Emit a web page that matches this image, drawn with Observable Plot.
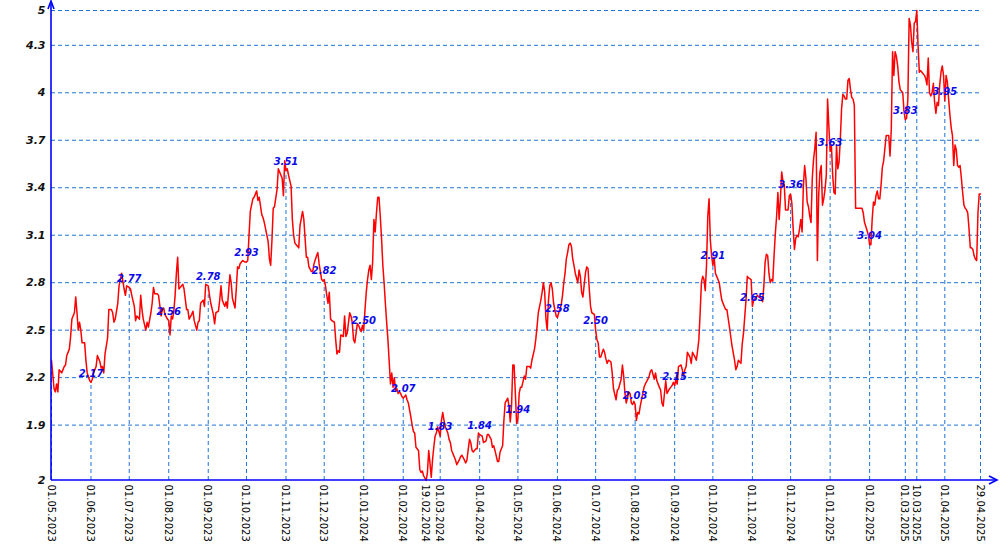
<!DOCTYPE html>
<html>
<head>
<meta charset="utf-8">
<script src="https://cdn.jsdelivr.net/npm/d3@7"></script>
<script src="https://cdn.jsdelivr.net/npm/@observablehq/plot@0.6"></script>
<style>
  html, body { margin: 0; padding: 0; background: #ffffff; }
  svg { display: block; }
</style>
</head>
<body>
<div id="chart"></div>
<script>
// ---- data ----
const dates = [
  // 2023-05
  "2023-05-01","2023-05-03","2023-05-04","2023-05-05","2023-05-06","2023-05-07","2023-05-09","2023-05-11","2023-05-12","2023-05-13","2023-05-15","2023-05-16","2023-05-17","2023-05-19","2023-05-20","2023-05-21","2023-05-22","2023-05-23","2023-05-24","2023-05-25","2023-05-27","2023-05-28","2023-05-29","2023-05-31",
  // 2023-06
  "2023-06-01","2023-06-02","2023-06-03","2023-06-05","2023-06-06","2023-06-08","2023-06-09","2023-06-10","2023-06-11","2023-06-12","2023-06-14","2023-06-15","2023-06-17","2023-06-18","2023-06-19","2023-06-20","2023-06-22","2023-06-23","2023-06-25","2023-06-27","2023-06-28","2023-06-29",
  // 2023-07
  "2023-07-01","2023-07-02","2023-07-03","2023-07-05","2023-07-06","2023-07-07","2023-07-09","2023-07-10","2023-07-11","2023-07-12","2023-07-14","2023-07-15","2023-07-16","2023-07-18","2023-07-19","2023-07-20","2023-07-21","2023-07-23","2023-07-24","2023-07-26","2023-07-27","2023-07-28","2023-07-29","2023-07-31",
  // 2023-08
  "2023-08-01","2023-08-02","2023-08-03","2023-08-04","2023-08-05","2023-08-06","2023-08-07","2023-08-08","2023-08-09","2023-08-11","2023-08-12","2023-08-13","2023-08-15","2023-08-16","2023-08-17","2023-08-19","2023-08-20","2023-08-21","2023-08-23","2023-08-24","2023-08-25","2023-08-26","2023-08-28","2023-08-29","2023-08-30",
  // 2023-09
  "2023-09-01","2023-09-02","2023-09-03","2023-09-05","2023-09-06","2023-09-07","2023-09-09","2023-09-10","2023-09-11","2023-09-12","2023-09-14","2023-09-15","2023-09-16","2023-09-18","2023-09-19","2023-09-20","2023-09-22","2023-09-23","2023-09-24","2023-09-25","2023-09-26","2023-09-28","2023-09-30",
  // 2023-10
  "2023-10-01","2023-10-02","2023-10-03","2023-10-04","2023-10-06","2023-10-07","2023-10-09","2023-10-10","2023-10-11","2023-10-13","2023-10-14","2023-10-15","2023-10-17","2023-10-18","2023-10-19","2023-10-20","2023-10-21","2023-10-22","2023-10-23","2023-10-25","2023-10-26","2023-10-27","2023-10-29","2023-10-30","2023-10-31",
  // 2023-11
  "2023-11-01","2023-11-02","2023-11-03","2023-11-05","2023-11-06","2023-11-07","2023-11-08","2023-11-10","2023-11-11","2023-11-12","2023-11-14","2023-11-15","2023-11-16","2023-11-17","2023-11-18","2023-11-19","2023-11-21","2023-11-22","2023-11-23","2023-11-25","2023-11-26","2023-11-27","2023-11-28","2023-11-29","2023-11-30",
  // 2023-12
  "2023-12-01","2023-12-02","2023-12-03","2023-12-04","2023-12-05","2023-12-06","2023-12-07","2023-12-09","2023-12-10","2023-12-11","2023-12-12","2023-12-13","2023-12-14","2023-12-16","2023-12-17","2023-12-18","2023-12-19","2023-12-21","2023-12-22","2023-12-23","2023-12-24","2023-12-25","2023-12-26","2023-12-27","2023-12-28","2023-12-30","2023-12-31",
  // 2024-01
  "2024-01-01","2024-01-02","2024-01-03","2024-01-04","2024-01-05","2024-01-06","2024-01-07","2024-01-08","2024-01-09","2024-01-10","2024-01-11","2024-01-12","2024-01-13","2024-01-14","2024-01-15","2024-01-16","2024-01-17","2024-01-18","2024-01-19","2024-01-20","2024-01-21","2024-01-22","2024-01-23","2024-01-24","2024-01-25","2024-01-26","2024-01-27","2024-01-28","2024-01-29","2024-01-30","2024-01-31",
  // 2024-02
  "2024-02-01","2024-02-02","2024-02-03","2024-02-04","2024-02-05","2024-02-07","2024-02-08","2024-02-09","2024-02-10","2024-02-11","2024-02-13","2024-02-14","2024-02-15","2024-02-16","2024-02-17","2024-02-19","2024-02-20","2024-02-21","2024-02-22","2024-02-23","2024-02-24","2024-02-25","2024-02-26","2024-02-27","2024-02-28",
  // 2024-03
  "2024-03-01","2024-03-02","2024-03-03","2024-03-04","2024-03-05","2024-03-07","2024-03-08","2024-03-09","2024-03-10","2024-03-12","2024-03-13","2024-03-14","2024-03-16","2024-03-17","2024-03-18","2024-03-20","2024-03-21","2024-03-22","2024-03-24","2024-03-25","2024-03-26","2024-03-27","2024-03-29","2024-03-30","2024-03-31",
  // 2024-04
  "2024-04-01","2024-04-03","2024-04-04","2024-04-06","2024-04-07","2024-04-08","2024-04-10","2024-04-11","2024-04-12","2024-04-13","2024-04-15","2024-04-16","2024-04-17","2024-04-19","2024-04-20","2024-04-21","2024-04-23","2024-04-24","2024-04-25","2024-04-26","2024-04-27","2024-04-28","2024-04-29","2024-04-30",
  // 2024-05
  "2024-05-01","2024-05-02","2024-05-03","2024-05-04","2024-05-06","2024-05-07","2024-05-08","2024-05-10","2024-05-11","2024-05-12","2024-05-14","2024-05-15","2024-05-16","2024-05-17","2024-05-18","2024-05-19","2024-05-20","2024-05-21","2024-05-22","2024-05-23","2024-05-24","2024-05-25","2024-05-26","2024-05-27","2024-05-28","2024-05-29","2024-05-31",
  // 2024-06
  "2024-06-01","2024-06-02","2024-06-04","2024-06-05","2024-06-06","2024-06-07","2024-06-08","2024-06-09","2024-06-10","2024-06-11","2024-06-12","2024-06-13","2024-06-14","2024-06-15","2024-06-16","2024-06-17","2024-06-18","2024-06-19","2024-06-20","2024-06-21","2024-06-23","2024-06-24","2024-06-25","2024-06-26","2024-06-27","2024-06-28","2024-06-30",
  // 2024-07
  "2024-07-01","2024-07-02","2024-07-03","2024-07-04","2024-07-05","2024-07-07","2024-07-08","2024-07-09","2024-07-10","2024-07-11","2024-07-13","2024-07-14","2024-07-15","2024-07-17","2024-07-18","2024-07-19","2024-07-21","2024-07-22","2024-07-23","2024-07-24","2024-07-25","2024-07-27","2024-07-28","2024-07-29","2024-07-30","2024-07-31",
  // 2024-08
  "2024-08-01","2024-08-02","2024-08-03","2024-08-04","2024-08-05","2024-08-07","2024-08-08","2024-08-09","2024-08-11","2024-08-12","2024-08-13","2024-08-14","2024-08-16","2024-08-17","2024-08-18","2024-08-20","2024-08-21","2024-08-22","2024-08-23","2024-08-24","2024-08-25","2024-08-26","2024-08-28","2024-08-29","2024-08-30","2024-08-31",
  // 2024-09
  "2024-09-01","2024-09-02","2024-09-03","2024-09-04","2024-09-06","2024-09-07","2024-09-08","2024-09-09","2024-09-10","2024-09-11","2024-09-13","2024-09-14","2024-09-15","2024-09-17","2024-09-18","2024-09-19","2024-09-20","2024-09-21","2024-09-22","2024-09-23","2024-09-24","2024-09-25","2024-09-26","2024-09-27","2024-09-28","2024-09-29","2024-09-30",
  // 2024-10
  "2024-10-01","2024-10-02","2024-10-03","2024-10-04","2024-10-06","2024-10-07","2024-10-08","2024-10-10","2024-10-11","2024-10-12","2024-10-14","2024-10-15","2024-10-16","2024-10-18","2024-10-19","2024-10-20","2024-10-21","2024-10-23","2024-10-24","2024-10-25","2024-10-27","2024-10-28","2024-10-29","2024-10-31",
  // 2024-11
  "2024-11-01","2024-11-02","2024-11-04","2024-11-05","2024-11-06","2024-11-08","2024-11-09","2024-11-10","2024-11-11","2024-11-12","2024-11-13","2024-11-14","2024-11-15","2024-11-16","2024-11-17","2024-11-18","2024-11-19","2024-11-20","2024-11-21","2024-11-22","2024-11-23","2024-11-24","2024-11-25","2024-11-26","2024-11-27","2024-11-29","2024-11-30",
  // 2024-12
  "2024-12-01","2024-12-02","2024-12-03","2024-12-04","2024-12-05","2024-12-06","2024-12-07","2024-12-08","2024-12-09","2024-12-10","2024-12-11","2024-12-12","2024-12-13","2024-12-14","2024-12-15","2024-12-16","2024-12-17","2024-12-18","2024-12-19","2024-12-20","2024-12-21","2024-12-22","2024-12-23","2024-12-24","2024-12-25","2024-12-26","2024-12-27","2024-12-28","2024-12-29","2024-12-30","2024-12-31",
  // 2025-01
  "2025-01-01","2025-01-02","2025-01-03","2025-01-04","2025-01-05","2025-01-06","2025-01-07","2025-01-08","2025-01-09","2025-01-10","2025-01-11","2025-01-12","2025-01-13","2025-01-14","2025-01-15","2025-01-16","2025-01-17","2025-01-18","2025-01-19","2025-01-20","2025-01-21","2025-01-22","2025-01-24","2025-01-26","2025-01-27","2025-01-28","2025-01-30","2025-01-31",
  // 2025-02
  "2025-02-01","2025-02-02","2025-02-03","2025-02-04","2025-02-05","2025-02-06","2025-02-07","2025-02-08","2025-02-09","2025-02-10","2025-02-11","2025-02-12","2025-02-13","2025-02-14","2025-02-15","2025-02-16","2025-02-17","2025-02-18","2025-02-19","2025-02-20","2025-02-21","2025-02-22","2025-02-23","2025-02-24","2025-02-25","2025-02-27","2025-02-28",
  // 2025-03
  "2025-03-01","2025-03-02","2025-03-03","2025-03-04","2025-03-05","2025-03-06","2025-03-07","2025-03-08","2025-03-09","2025-03-10","2025-03-11","2025-03-12","2025-03-13","2025-03-14","2025-03-16","2025-03-17","2025-03-18","2025-03-19","2025-03-20","2025-03-21","2025-03-22","2025-03-23","2025-03-24","2025-03-25","2025-03-26","2025-03-27","2025-03-28","2025-03-29","2025-03-30","2025-03-31",
  // 2025-04
  "2025-04-01","2025-04-02","2025-04-03","2025-04-04","2025-04-05","2025-04-06","2025-04-07","2025-04-08","2025-04-09","2025-04-10","2025-04-11","2025-04-12","2025-04-13","2025-04-14","2025-04-15","2025-04-16","2025-04-17","2025-04-18","2025-04-19","2025-04-20","2025-04-21","2025-04-22","2025-04-23","2025-04-24","2025-04-25","2025-04-26","2025-04-27","2025-04-28","2025-04-29"
];

const values = [
  // 2023-05
  2.31,2.13,2.11,2.16,2.11,2.25,2.23,2.27,2.28,2.34,2.38,2.46,2.57,2.61,2.71,2.61,2.50,2.55,2.50,2.42,2.42,2.31,2.23,2.18,
  // 2023-06
  2.17,2.19,2.23,2.27,2.34,2.30,2.26,2.27,2.23,2.35,2.45,2.63,2.63,2.61,2.55,2.57,2.67,2.78,2.86,2.76,2.72,2.78,
  // 2023-07
  2.77,2.76,2.72,2.65,2.56,2.59,2.57,2.72,2.63,2.57,2.50,2.55,2.52,2.61,2.67,2.77,2.73,2.73,2.72,2.59,2.63,2.64,2.60,2.57,
  // 2023-08
  2.56,2.47,2.59,2.57,2.62,2.72,2.86,2.96,2.76,2.78,2.79,2.76,2.63,2.63,2.57,2.60,2.62,2.56,2.50,2.55,2.56,2.67,2.69,2.65,2.79,
  // 2023-09
  2.78,2.72,2.67,2.60,2.54,2.61,2.62,2.69,2.78,2.69,2.65,2.68,2.64,2.85,2.80,2.70,2.64,2.76,2.90,2.89,2.92,2.94,2.93,
  // 2023-10
  2.93,2.94,3.10,3.25,3.33,3.34,3.38,3.32,3.34,3.23,3.21,3.18,3.10,3.06,2.95,2.91,3.07,3.27,3.28,3.39,3.52,3.50,3.46,3.35,3.57,
  // 2023-11
  3.51,3.52,3.48,3.41,3.20,3.10,3.05,3.03,3.02,3.16,3.25,3.20,3.08,2.96,2.96,2.90,2.87,2.87,2.92,2.97,2.99,2.92,2.87,2.82,2.81,
  // 2023-12
  2.82,2.78,2.72,2.67,2.74,2.57,2.56,2.55,2.44,2.35,2.37,2.36,2.47,2.46,2.59,2.46,2.48,2.61,2.59,2.55,2.44,2.42,2.48,2.54,2.53,2.49,2.53,
  // 2024-01
  2.50,2.63,2.74,2.82,2.88,2.91,2.82,2.93,3.20,3.12,3.24,3.34,3.34,3.22,3.08,2.91,2.80,2.67,2.55,2.44,2.30,2.16,2.23,2.14,2.20,2.12,2.13,2.10,2.11,2.10,2.08,
  // 2024-02
  2.07,2.08,2.09,2.06,2.04,1.95,1.90,1.86,1.85,1.76,1.74,1.62,1.60,1.61,1.58,1.55,1.60,1.74,1.66,1.57,1.68,1.76,1.83,1.85,1.89,
  // 2024-03
  1.83,1.93,1.98,1.93,1.89,1.85,1.81,1.79,1.74,1.70,1.68,1.65,1.68,1.70,1.71,1.68,1.66,1.68,1.81,1.79,1.74,1.73,1.75,1.75,1.85,
  // 2024-04
  1.84,1.83,1.79,1.80,1.84,1.84,1.81,1.76,1.77,1.74,1.67,1.67,1.73,1.77,1.93,2.04,2.07,2.02,1.92,2.02,2.28,2.28,2.10,1.91,
  // 2024-05
  1.94,2.10,2.14,2.14,2.21,2.19,2.27,2.27,2.26,2.31,2.38,2.44,2.52,2.61,2.65,2.69,2.74,2.80,2.74,2.57,2.50,2.69,2.78,2.80,2.76,2.67,2.59,
  // 2024-06
  2.58,2.61,2.66,2.72,2.80,2.86,2.95,2.99,3.04,3.05,3.03,2.95,2.91,2.86,2.83,2.80,2.88,2.84,2.74,2.71,2.86,2.90,2.89,2.76,2.65,2.61,2.60,
  // 2024-07
  2.50,2.44,2.42,2.33,2.33,2.38,2.36,2.32,2.29,2.31,2.30,2.23,2.13,2.06,2.12,2.13,2.19,2.28,2.21,2.10,2.04,2.11,2.10,2.04,2.03,2.05,
  // 2024-08
  2.03,1.93,1.98,1.97,2.02,2.10,2.14,2.16,2.19,2.21,2.24,2.25,2.19,2.23,2.18,2.14,2.12,2.04,2.02,2.10,2.18,2.10,2.13,2.14,2.15,2.17,
  // 2024-09
  2.15,2.19,2.16,2.27,2.28,2.25,2.21,2.25,2.27,2.36,2.33,2.29,2.36,2.33,2.31,2.37,2.44,2.61,2.80,2.84,2.82,2.75,2.91,3.22,3.33,3.07,2.97,
  // 2024-10
  2.91,2.96,2.86,2.84,2.80,2.74,2.69,2.65,2.63,2.63,2.52,2.46,2.40,2.31,2.25,2.27,2.31,2.29,2.41,2.48,2.69,2.84,2.83,2.82,
  // 2024-11
  2.65,2.69,2.71,2.72,2.71,2.70,2.68,2.78,2.93,2.98,2.97,2.86,2.80,2.82,2.81,2.97,3.11,3.22,3.37,3.20,3.33,3.50,3.44,3.42,3.26,3.26,3.35,
  // 2024-12
  3.36,3.30,3.14,3.01,3.08,3.10,3.09,3.14,3.20,3.12,3.41,3.54,3.46,3.31,3.28,3.22,3.18,3.46,3.58,3.65,3.75,2.94,3.35,3.50,3.54,3.29,3.33,3.39,3.48,3.96,3.79,
  // 2025-01
  3.63,3.67,3.48,3.37,3.36,3.67,3.52,3.56,3.71,3.90,3.99,3.98,3.96,3.96,4.08,4.09,4.02,3.97,3.96,3.92,3.27,3.27,3.27,3.27,3.24,3.18,3.13,3.10,
  // 2025-02
  3.04,3.04,3.20,3.31,3.29,3.35,3.38,3.33,3.33,3.42,3.53,3.57,3.65,3.73,3.73,3.73,3.60,3.77,4.26,4.11,4.26,4.23,4.17,4.07,4.02,4.00,3.88,
  // 2025-03
  3.83,3.84,3.96,4.47,4.43,4.32,4.26,4.44,4.45,4.52,4.30,4.13,4.14,4.13,4.11,4.09,4.05,4.22,4.00,3.98,4.00,4.06,3.94,3.87,3.94,3.92,4.05,4.13,4.17,4.11,
  // 2025-04
  3.95,4.11,4.07,3.96,3.86,3.78,3.73,3.54,3.67,3.64,3.54,3.53,3.54,3.46,3.37,3.29,3.27,3.26,3.24,3.14,3.02,3.02,3.01,2.97,2.95,2.94,3.24,3.36,3.36
];

// x-axis tick dates (vertical dashed guides reach up to the series value)
const tickDates = [
  "2023-05-01","2023-06-01","2023-07-01","2023-08-01","2023-09-01","2023-10-01","2023-11-01","2023-12-01",
  "2024-01-01","2024-02-01","2024-02-19","2024-03-01","2024-04-01","2024-05-01","2024-06-01","2024-07-01",
  "2024-08-01","2024-09-01","2024-10-01","2024-11-01","2024-12-01","2025-01-01","2025-02-01","2025-03-01",
  "2025-03-10","2025-04-01","2025-04-29"
];

// dates whose value is written as a blue label
const labelDates = [
  "2023-06-01","2023-07-01","2023-08-01","2023-09-01","2023-10-01","2023-11-01","2023-12-01",
  "2024-01-01","2024-02-01","2024-03-01","2024-04-01","2024-05-01","2024-06-01","2024-07-01",
  "2024-08-01","2024-09-01","2024-10-01","2024-11-01","2024-12-01","2025-01-01","2025-02-01",
  "2025-03-01","2025-04-01"
];

// horizontal grid values and y tick labels (first = series minimum, last = series maximum)
const gridValues = [1.9, 2.2, 2.5, 2.8, 3.1, 3.4, 3.7, 4.0, 4.3];
const yTickLabels = ["2", "1.9", "2.2", "2.5", "2.8", "3.1", "3.4", "3.7", "4", "4.3", "5"];

// ---- build ----
const parse = d3.utcParse("%Y-%m-%d");
const fmtDate = d3.utcFormat("%d.%m.%Y");
const fmtVal = d3.format(".2f");

const series = dates.map((d, i) => ({date: parse(d), value: values[i]}));
const byDate = new Map(series.map(d => [+d.date, d.value]));
const ymin = d3.min(values), ymax = d3.max(values);
const xStart = series[0].date, xEnd = series[series.length - 1].date;

const tickRecs = tickDates.map(s => ({date: parse(s), value: byDate.get(+parse(s))}));
const labelRecs = labelDates.map(s => ({date: parse(s), value: byDate.get(+parse(s))}));
const yTickValues = [ymin, ...gridValues, ymax];
const yTickRecs = yTickValues.map((v, i) => ({v, label: yTickLabels[i]}));

const GRID = "#1f74d6";
const AXIS = "#0000ff";
const dash = "4,3";

const chart = Plot.plot({
  width: 1000,
  height: 550,
  marginLeft: 51,
  marginRight: 20,
  marginTop: 10,
  marginBottom: 70,
  style: {fontFamily: "'DejaVu Sans', Verdana, sans-serif", background: "#ffffff", overflow: "visible"},
  x: {type: "utc", domain: [xStart, xEnd], axis: null},
  y: {domain: [ymin, ymax], axis: null},
  marks: [
    Plot.ruleY([...gridValues, ymax], {stroke: GRID, strokeWidth: 1, strokeDasharray: dash}),
    Plot.ruleX(tickRecs, {x: "date", y1: ymin, y2: "value", stroke: GRID, strokeWidth: 1, strokeDasharray: dash}),
    Plot.line(series, {x: "date", y: "value", stroke: "#ff0000", strokeWidth: 1.5}),
    Plot.text(labelRecs, {
      x: "date", y: "value", text: d => fmtVal(d.value), dy: -9,
      fill: "#0a0ae8", fontWeight: "bold", fontStyle: "italic", fontSize: 10
    }),
    Plot.text(tickRecs, {
      x: "date", frameAnchor: "bottom", text: d => fmtDate(d.date),
      rotate: 90, textAnchor: "start", dx: -4, dy: 4, fill: "#000000", fontSize: 10
    }),
    Plot.text(yTickRecs, {
      y: "v", frameAnchor: "left", text: "label", textAnchor: "end", dx: -6,
      fill: "#111111", fontWeight: "bold", fontStyle: "italic", fontSize: 11
    })
  ]
});

// axis lines with arrow heads, positioned with the chart's own scales
const sx = chart.scale("x"), sy = chart.scale("y");
const ax = sx.apply(xStart), ay = sy.apply(ymin);
const g = d3.select(chart).append("g")
  .attr("fill", "none").attr("stroke", AXIS).attr("stroke-width", 1.6);
g.append("line").attr("x1", ax).attr("x2", ax).attr("y1", ay).attr("y2", 1);
g.append("path").attr("d", `M${ax - 3},9L${ax},1L${ax + 3},9`);
g.append("line").attr("x1", ax).attr("x2", 997).attr("y1", ay).attr("y2", ay);
g.append("path").attr("d", `M989,${ay - 4}L997,${ay}L989,${ay + 4}`);

document.getElementById("chart").appendChild(chart);

if (dates.length !== values.length) {
  const p = document.createElement("p");
  p.textContent = "LENGTH MISMATCH " + dates.length + " vs " + values.length;
  document.body.appendChild(p);
}
</script>
</body>
</html>
